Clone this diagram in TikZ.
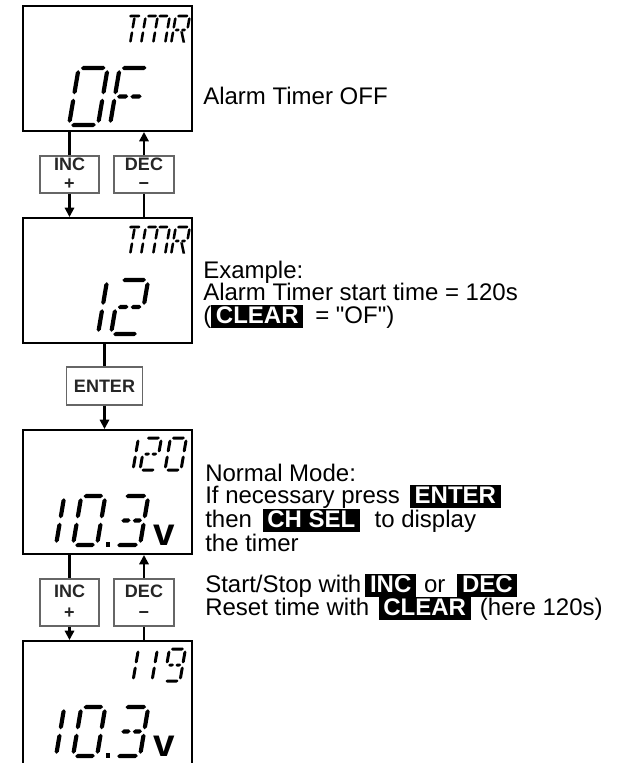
\documentclass[tikz,border=0pt]{standalone}
\usepackage{fontspec}
\setmainfont{Liberation Sans}
\usetikzlibrary{fit,arrows.meta}

% one LCD segment, horizontal: from x=#1 to x=#2 at height #3
\newcommand\dsegH[3]{\fill (#1,#3) -- ++(\dsh,\dsh) -- ++({(#2)-(#1)-2*\dsh},0) -- ++(\dsh,-\dsh) -- ++(-\dsh,-\dsh) -- ++({-((#2)-(#1)-2*\dsh)},0) -- cycle;}
% vertical: at x=#1 from y=#2 to y=#3
\newcommand\dsegV[3]{\fill (#1,#2) -- ++(\dsh,\dsh) -- ++(0,{(#3)-(#2)-2*\dsh}) -- ++(-\dsh,\dsh) -- ++(-\dsh,-\dsh) -- ++(0,{-((#3)-(#2)-2*\dsh)}) -- cycle;}
\newcommand\dsega{\dsegH{\dg}{\dW-\dg}{\dH}}
\newcommand\dsegb{\dsegV{\dW}{\dH/2+\dg}{\dH-\dg}}
\newcommand\dsegc{\dsegV{\dW}{\dg}{\dH/2-\dg}}
\newcommand\dsegd{\dsegH{\dg}{\dW-\dg}{0}}
\newcommand\dsege{\dsegV{0}{\dg}{\dH/2-\dg}}
\newcommand\dsegf{\dsegV{0}{\dH/2+\dg}{\dH-\dg}}
\newcommand\dsegg{\dsegH{\dg}{\dW/2-\dg/2}{\dH/2}\dsegH{\dW/2+\dg/2}{\dW-\dg}{\dH/2}}
\newcommand\dsegi{\dsegV{\dW/2}{\dH/2+\dg}{\dH-\dg}}
\newcommand\dsegj{\dsegV{\dW/2}{\dg}{\dH/2-\dg}}
\newcommand\dsegm{\dsegH{\dg}{\dW/2-\dg/2}{\dH}\dsegH{\dW/2+\dg/2}{\dW-\dg}{\dH}}
\newcommand\dsegk{\fill ({\dW/2+\dg-\dsh},{\dH/2-\dg}) -- ({\dW/2+\dg+\dsh},{\dH/2-\dg}) -- ({\dW-\dg+\dsh},{\dg}) -- ({\dW-\dg-\dsh},{\dg}) -- cycle;}
% #1,#2 bottom-left (px), #3 width, #4 height, #5 half thickness, #6 segments
\newcommand\lcd[6]{\begin{scope}[shift={(#1,#2)},xslant=0.17,yscale=-1]
\def\dW{#3}\def\dH{#4}\def\dsh{#5}\pgfmathsetmacro\dg{#5*1.05}
\foreach \sg in {#6}{\csname dseg\sg\endcsname}
\end{scope}}

\newcommand\kbox[1]{{\fboxsep=1pt\colorbox{black}{\hspace{2.5pt}\textcolor{white}{\bfseries\rule[-2.5pt]{0pt}{14.5pt}#1}\hspace{2.5pt}}}}

\tikzset{
  disp/.style={draw, line width=1.5pt, inner sep=0pt},
  btn/.style={draw=black!60, line width=0.8pt, fill=white, inner sep=0pt},
  btxt/.style={anchor=base, inner sep=0pt, text=black!85, font=\fontsize{13.5}{14}\selectfont\bfseries},
  conn/.style={line width=1.6pt},
  arr/.style={conn, -{Triangle[length=7pt,width=7pt]}},
  txt/.style={anchor=base west, inner sep=0pt, font=\fontsize{18}{20}\selectfont},
  unit/.style={anchor=base west, inner sep=0pt, font=\fontsize{29}{29}\selectfont\bfseries}
}

\begin{document}
\begin{tikzpicture}[x=0.75pt,y=-0.75pt]
\fill[white] (0,0) rectangle (635,763);
\useasboundingbox (0,0) rectangle (635,763);

% displays
\node[disp, fit={(23,6) (192,131)}] (d1) {};
\node[disp, fit={(23,218) (192,343)}] (d2) {};
\node[disp, fit={(23,430) (192,554)}] (d3) {};
\node[disp, fit={(23,641) (192,790)}] (d4) {};

% buttons
\node[btn, minimum width=44.25pt, minimum height=27.75pt] (b1) at (69.5,174.5) {};
\node[btn, minimum width=45pt, minimum height=27.75pt] (b2) at (144,174.5) {};
\node[btn, minimum width=57pt, minimum height=28.5pt] (b3) at (104.5,386) {};
\node[btn, minimum width=44.25pt, minimum height=35.25pt] (b4) at (69.5,602.5) {};
\node[btn, minimum width=45pt, minimum height=35.25pt] (b5) at (144,602.5) {};

\node[btxt] (l1a) at (69.5,171) {INC};
\node[btxt] (l1b) at (69.5,189.5) {+};
\node[btxt] (l2a) at (144,171) {DEC};
\node[btxt] (l2b) at (144,189.5) {−};
\node[btxt] (l3) at (104.5,392.5) {ENTER};
\node[btxt] (l4a) at (69.5,597) {INC};
\node[btxt] (l4b) at (69.5,618) {+};
\node[btxt] (l5a) at (144,597) {DEC};
\node[btxt] (l5b) at (144,618) {−};

% connectors
\draw[conn] (d1.south -| b1.north) -- (b1.north);
\draw[arr] (b1.south) -- (b1.south |- d2.north);
\draw[conn] (d2.north -| b2.south) -- (b2.south);
\draw[arr] (b2.north) -- (b2.north |- d1.south);
\draw[conn] (d2.south -| b3.north) -- (b3.north);
\draw[arr] (b3.south) -- (b3.south |- d3.north);
\draw[conn] (d3.south -| b4.north) -- (b4.north);
\draw[arr] (b4.south) -- (b4.south |- d4.north);
\draw[conn] (d4.north -| b5.south) -- (b5.south);
\draw[arr] (b5.north) -- (b5.north |- d3.south);

% display contents
% box 1: TMR / OF
\lcd{123}{44}{14}{28}{1.3}{a,i,j}
\lcd{141}{44}{24}{28}{1.3}{m,f,e,i,j,b,c}
\lcd{171}{44}{14}{28}{1.3}{a,f,e,b,g,k}
\lcd{69}{125}{29}{57}{2.1}{a,b,c,d,e,f}
\lcd{110}{125}{29}{57}{2.1}{a,e,f,g}
% box 2: TMR / 12
\lcd{123}{255}{14}{28}{1.3}{a,i,j}
\lcd{141}{255}{24}{28}{1.3}{m,f,e,i,j,b,c}
\lcd{171}{255}{14}{28}{1.3}{a,f,e,b,g,k}
\lcd{70}{334}{28}{54}{2.1}{b,c}
\lcd{111}{334}{28}{54}{2.1}{a,b,g,e,d}
% box 3: 120 / 10.3v
\lcd{117}{470}{16}{32}{1.5}{b,c}
\lcd{140}{470}{16}{32}{1.5}{a,b,g,e,d}
\lcd{165}{470}{16}{32}{1.5}{a,b,c,d,e,f}
\lcd{32}{545}{24}{49}{2.1}{b,c}
\lcd{73}{545}{24}{49}{2.1}{a,b,c,d,e,f}
\fill (105.5,542) rectangle (110,546.5);
\lcd{115}{545}{25}{49}{2.1}{a,b,c,d,g}
\node[unit] (v3) at (153,545) {v};
% box 4: 119 / 10.3v
\lcd{117}{681}{16}{32}{1.5}{b,c}
\lcd{136}{681}{16}{32}{1.5}{b,c}
\lcd{164}{681}{16}{32}{1.5}{a,b,c,d,f,g}
\lcd{32}{756}{24}{49}{2.1}{b,c}
\lcd{73}{756}{24}{49}{2.1}{a,b,c,d,e,f}
\fill (105.5,753) rectangle (110,757.5);
\lcd{115}{756}{25}{49}{2.1}{a,b,c,d,g}
\node[unit] (v4) at (153,756) {v};

% texts
\node[txt] (t1) at (203,105) {Alarm Timer OFF};
\node[txt] (t2) at (203,278) {Example:};
\node[txt] (t3) at (203,300) {Alarm Timer start time = 120s};
\node[txt] (t4) at (203,323) {(\kbox{CLEAR}\hspace{9pt}= \textquotedbl OF\textquotedbl)};
\node[txt] (t5) at (205,481) {Normal Mode:};
\node[txt] (t6) at (205,503) {If necessary press\hspace{7.5pt}\kbox{ENTER}};
\node[txt] (t7) at (205,527) {then\hspace{8pt}\kbox{CH SEL}\hspace{11pt}to display};
\node[txt] (t8) at (205,551) {the timer};
\node[txt] (t9) at (205,592) {Start/Stop with\hspace{3pt}\kbox{INC}\hspace{6pt}or\hspace{9pt}\kbox{DEC}};
\node[txt] (t10) at (205,615) {Reset time with\hspace{7pt}\kbox{CLEAR}\hspace{7pt}(here 120s)};
\end{tikzpicture}
\end{document}
